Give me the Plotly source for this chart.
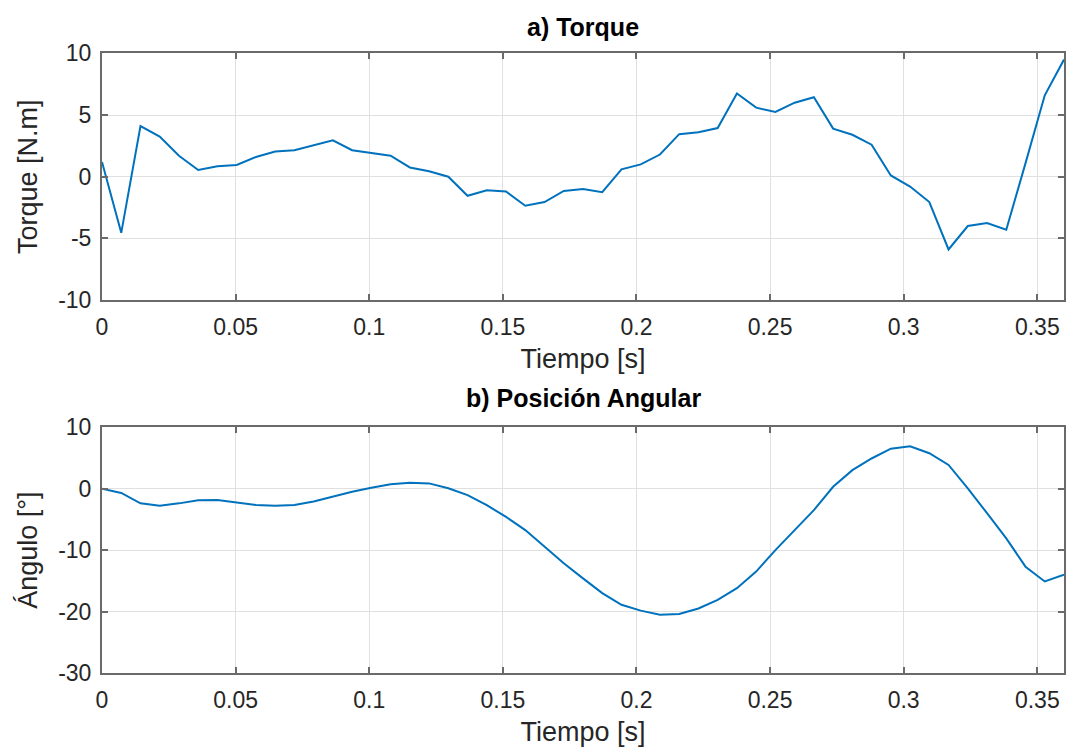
import plotly.graph_objects as go
from plotly.subplots import make_subplots

tiempo = [0.0, 0.0072, 0.0144, 0.0216, 0.0288, 0.036, 0.0432, 0.0504, 0.0576, 0.0648,
          0.072, 0.0792, 0.0864, 0.0936, 0.1008, 0.108, 0.1152, 0.1224, 0.1296, 0.1368,
          0.144, 0.1512, 0.1584, 0.1656, 0.1728, 0.18, 0.1872, 0.1944, 0.2016, 0.2088,
          0.216, 0.2232, 0.2304, 0.2376, 0.2448, 0.252, 0.2592, 0.2664, 0.2736, 0.2808,
          0.288, 0.2952, 0.3024, 0.3096, 0.3168, 0.324, 0.3312, 0.3384, 0.3456, 0.3528, 0.36]

torque = [1.2, -4.55, 4.1, 3.25, 1.7, 0.55, 0.85, 0.95, 1.6, 2.05,
          2.15, 2.55, 2.95, 2.15, 1.95, 1.7, 0.75, 0.45, 0.0, -1.55,
          -1.1, -1.2, -2.35, -2.05, -1.15, -1.0, -1.25, 0.6, 1.0, 1.8,
          3.45, 3.6, 3.95, 6.75, 5.6, 5.25, 6.0, 6.45, 3.9, 3.4,
          2.6, 0.1, -0.8, -2.05, -5.9, -4.0, -3.75, -4.3, 1.1, 6.6, 9.5]

angulo = [0.0, -0.7, -2.4, -2.8, -2.4, -1.9, -1.85, -2.3, -2.65, -2.8,
          -2.65, -2.1, -1.3, -0.5, 0.15, 0.7, 0.95, 0.85, 0.05, -1.05,
          -2.7, -4.6, -6.75, -9.45, -12.15, -14.6, -17.0, -18.9, -19.85, -20.5,
          -20.4, -19.5, -18.1, -16.2, -13.5, -10.0, -6.75, -3.5, 0.3, 3.0,
          4.9, 6.5, 6.9, 5.75, 3.85, 0.05, -4.0, -8.1, -12.7, -15.1, -14.0]

x_ticks = [0, 0.05, 0.1, 0.15, 0.2, 0.25, 0.3, 0.35]
x_ticktext = ["0", "0.05", "0.1", "0.15", "0.2", "0.25", "0.3", "0.35"]
torque_ticks = [-10, -5, 0, 5, 10]
torque_ticktext = ["-10", "-5", "0", "5", "10"]
angulo_ticks = [-30, -20, -10, 0, 10]
angulo_ticktext = ["-30", "-20", "-10", "0", "10"]

FONT = "Liberation Sans, Arial, Helvetica, sans-serif"
TXT = "#262626"
LINE_COLOR = "#0072BD"
AXIS_COLOR = "#6a6a6a"
GRID = "#e0e0e0"

fig = make_subplots(rows=2, cols=1)

fig.add_trace(go.Scatter(x=tiempo, y=torque, mode="lines",
                         line=dict(color=LINE_COLOR, width=2), showlegend=False), row=1, col=1)
fig.add_trace(go.Scatter(x=tiempo, y=angulo, mode="lines",
                         line=dict(color=LINE_COLOR, width=2), showlegend=False), row=2, col=1)

common_axis = dict(showline=True, linecolor=AXIS_COLOR, linewidth=2, mirror="ticks",
                   ticks="inside", ticklen=6, tickwidth=1.5, tickcolor=AXIS_COLOR,
                   showgrid=True, gridcolor=GRID, gridwidth=1.2, zeroline=False,
                   automargin=False,
                   tickfont=dict(family=FONT, size=23, color=TXT))

x_common = dict(common_axis, range=[0, 0.36], tickvals=x_ticks, ticktext=x_ticktext,
                ticklabelstandoff=5,
                title=dict(text="Tiempo [s]", font=dict(family=FONT, size=27, color=TXT), standoff=10))

fig.update_layout(
    width=1070, height=752,
    margin=dict(l=102, r=6, t=0, b=0, autoexpand=False),
    plot_bgcolor="white", paper_bgcolor="white",
    xaxis=dict(x_common, domain=[0, 1], anchor="y"),
    yaxis=dict(common_axis, domain=[0.601, 0.929], range=[-10, 10], tickvals=torque_ticks,
               ticktext=torque_ticktext, ticklabelstandoff=4,
               title=dict(text="Torque [N.m]", font=dict(family=FONT, size=27, color=TXT), standoff=13)),
    xaxis2=dict(x_common, domain=[0, 1], anchor="y2"),
    yaxis2=dict(common_axis, domain=[0.105, 0.432], range=[-30, 10], tickvals=angulo_ticks,
                ticktext=angulo_ticktext, ticklabelstandoff=4,
                title=dict(text="Ángulo [°]", font=dict(family=FONT, size=27, color=TXT), standoff=13)),
    annotations=[
        dict(text="<b>a) Torque</b>", x=0.5, xref="paper", y=1 - 27 / 752, yref="paper",
             xanchor="center", yanchor="middle", showarrow=False,
             font=dict(family=FONT, size=25, color="#000000")),
        dict(text="<b>b) Posición Angular</b>", x=0.5, xref="paper", y=1 - 398 / 752, yref="paper",
             xanchor="center", yanchor="middle", showarrow=False,
             font=dict(family=FONT, size=25, color="#000000")),
    ],
)

fig.write_html("out.html")
